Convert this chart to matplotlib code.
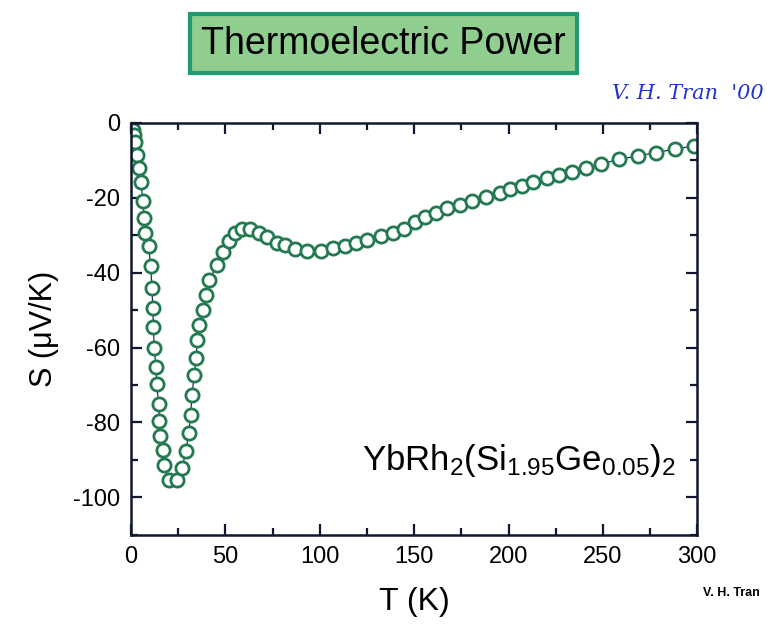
import matplotlib
matplotlib.use("Agg")
import matplotlib.pyplot as plt
from matplotlib.ticker import MultipleLocator

plt.rcParams['font.family'] = ['Liberation Sans', 'DejaVu Sans']
plt.rcParams['axes.unicode_minus'] = False

# temperature (K) and thermopower (uV/K)
T = [1.2, 1.3, 2.1, 3.3, 4.4, 5.1, 6.2, 6.9, 7.4, 9.2, 10.4, 11.0, 11.5, 11.8,
     12.2, 13.2, 13.6, 14.5, 15.0, 15.4, 16.8, 17.5, 19.8, 24.2, 26.9, 29.1,
     30.4, 31.6, 32.2, 33.4, 34.4, 35.1, 36.2, 38.3, 39.7, 41.5, 45.4, 48.6,
     51.6, 55.1, 58.7, 63.0, 67.5, 71.9, 77.2, 81.6, 86.9, 93.1, 100.5, 107.2,
     113.4, 119.2, 125.2, 132.3, 138.6, 144.7, 150.5, 155.8, 161.6, 167.6,
     174.3, 180.5, 188.1, 195.5, 200.8, 207.0, 213.2, 220.3, 227.0, 233.5,
     241.1, 248.9, 258.8, 268.8, 278.2, 288.3, 298.4]
S = [-1.9, -3.2, -5.0, -8.6, -12.0, -15.7, -20.8, -25.5, -29.3, -32.9, -38.2,
     -44.2, -49.3, -54.6, -60.2, -65.3, -69.8, -75.0, -79.6, -83.7, -87.4,
     -91.4, -95.5, -95.5, -92.3, -87.6, -82.8, -78.1, -72.7, -67.4, -62.9,
     -58.0, -54.0, -50.0, -46.0, -42.0, -38.0, -34.4, -31.5, -29.5, -28.4,
     -28.4, -29.5, -30.5, -32.0, -32.6, -33.8, -34.1, -34.1, -33.5, -32.9,
     -32.2, -31.3, -30.2, -29.3, -28.2, -26.4, -25.2, -24.1, -22.8, -21.9,
     -20.8, -19.7, -18.6, -17.7, -16.8, -15.7, -14.8, -13.9, -13.0, -12.1,
     -11.0, -9.7, -8.8, -7.9, -7.0, -6.1]

fig = plt.figure(figsize=(7.67, 6.24), dpi=100)
ax = fig.add_axes([0.171, 0.143, 0.738, 0.66])

ax.plot(T, S, '-', color='#1c2f6e', lw=0.9, zorder=1)
ax.plot(T, S, 'o', mfc='white', mec='#237a50', mew=2.0, ms=9.5, ls='none', zorder=2)

ax.set_xlim(0, 300)
ax.set_ylim(-110, 0)
ax.xaxis.set_major_locator(MultipleLocator(50))
ax.xaxis.set_minor_locator(MultipleLocator(25))
ax.yaxis.set_major_locator(MultipleLocator(20))
ax.yaxis.set_minor_locator(MultipleLocator(10))
ax.tick_params(which='both', direction='in', top=True, right=True,
               color='#101830', width=1.6)
ax.tick_params(which='major', length=8, labelsize=17, pad=8)
ax.tick_params(which='minor', length=5)
for sp in ax.spines.values():
    sp.set_linewidth(1.8)
    sp.set_color('#101830')

ax.set_xlabel('T (K)', fontsize=23, labelpad=14)
ax.set_ylabel('S (\u03bcV/K)', fontsize=22, labelpad=10)

ax.text(0.962, 0.18, r'YbRh$\mathregular{_2}$(Si$\mathregular{_{1.95}}$Ge$\mathregular{_{0.05}}$)$\mathregular{_2}$',
        transform=ax.transAxes, ha='right', va='center', fontsize=25)

fig.text(0.5, 0.93, 'Thermoelectric Power', ha='center', va='center', fontsize=27,
         bbox=dict(boxstyle='square,pad=0.3', fc='#8fce8f', ec='#1f9a72', lw=3))
fig.text(0.995, 0.85, "V. H. Tran  '00", ha='right', va='center', fontsize=15,
         style='italic', color='#2233cc', family='DejaVu Serif')
fig.text(0.99, 0.05, 'V. H. Tran', ha='right', va='center', fontsize=9,
         fontweight='bold')

fig.savefig('out.png', dpi=100)
